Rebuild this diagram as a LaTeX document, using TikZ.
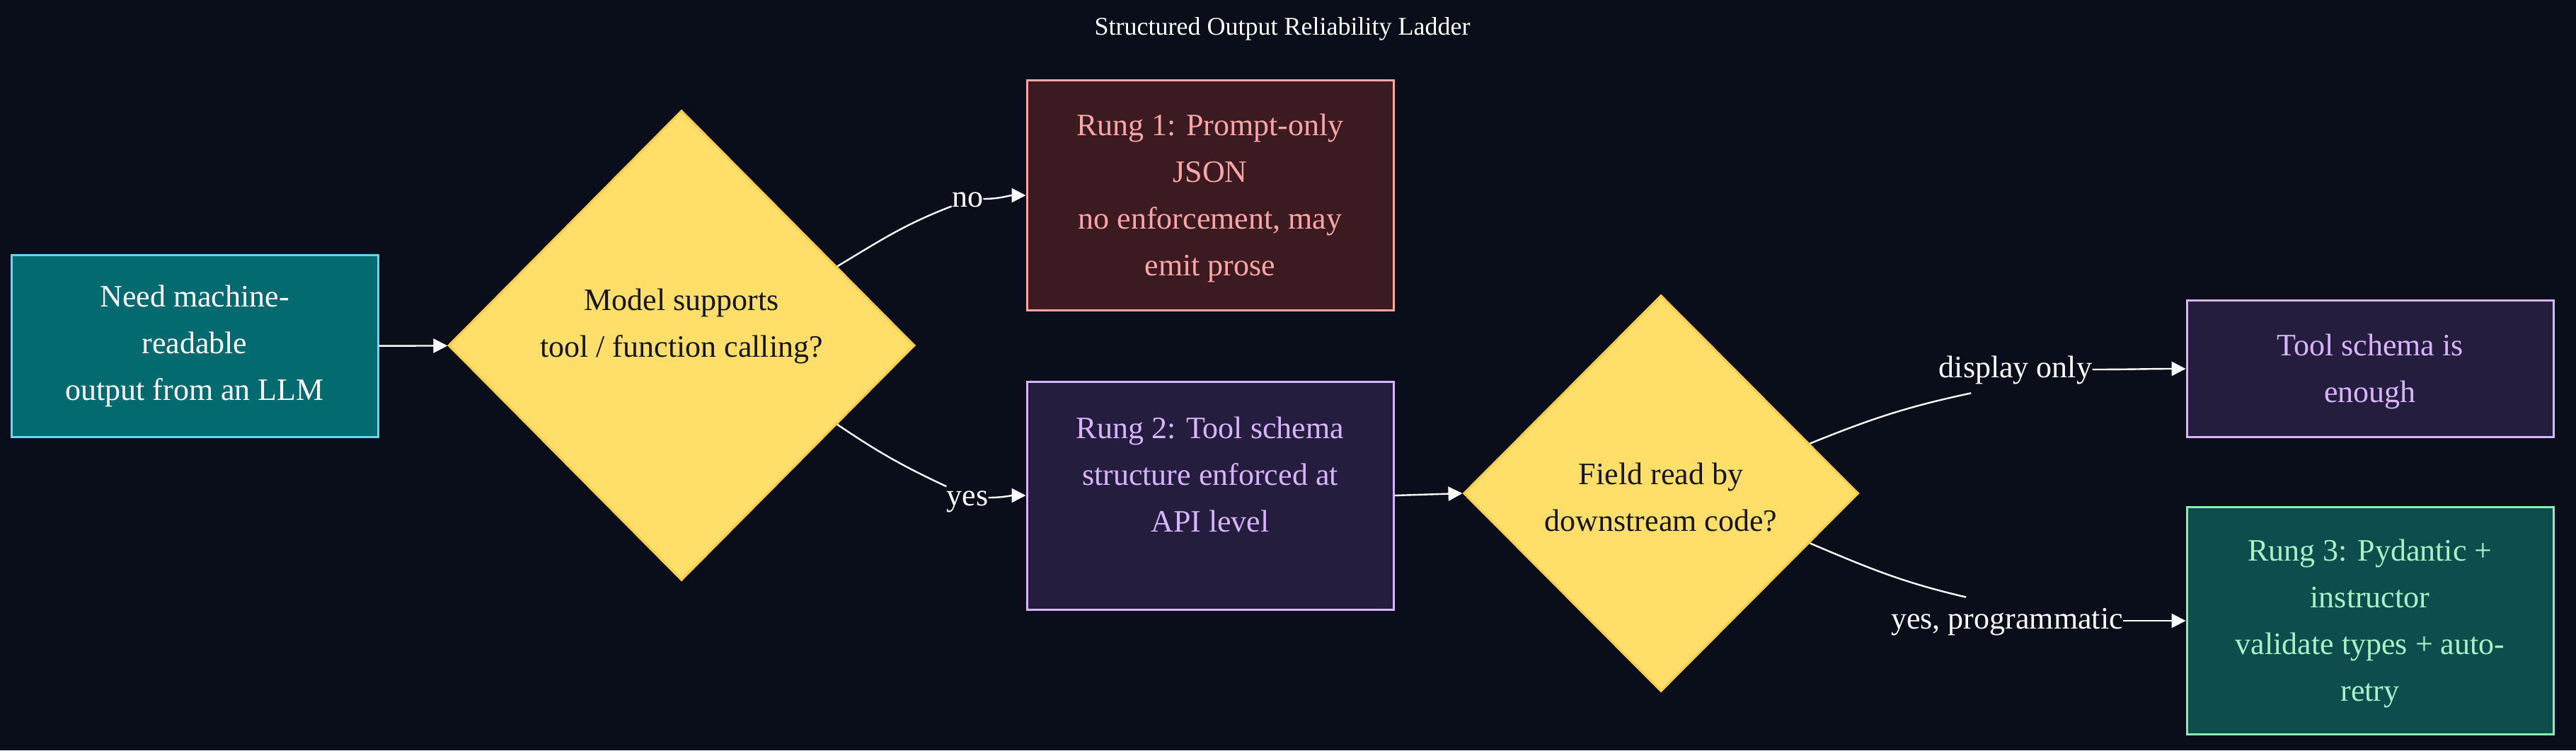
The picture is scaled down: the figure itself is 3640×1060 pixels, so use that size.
\documentclass[tikz,border=0pt]{standalone}
\usepackage{fontspec}
\setmainfont{Liberation Serif}
\usetikzlibrary{shapes.geometric,arrows.meta,calc}
\definecolor{bg}{HTML}{0A0E1A}
\definecolor{startfill}{HTML}{036A6F}
\definecolor{startborder}{HTML}{67D8EC}
\definecolor{diafill}{HTML}{FFDE6A}
\definecolor{diaborder}{HTML}{F8CC4A}
\definecolor{diatext}{HTML}{151515}
\definecolor{ronefill}{HTML}{3B1A22}
\definecolor{roneborder}{HTML}{FCA5A5}
\definecolor{rtwofill}{HTML}{251D3D}
\definecolor{rtwoborder}{HTML}{D8B4FE}
\definecolor{rthreefill}{HTML}{0E4C4E}
\definecolor{rthreeborder}{HTML}{86EFAC}
\definecolor{rthreetext}{HTML}{A7F3C4}
\begin{document}
\begin{tikzpicture}[x=0.5pt,y=-0.5pt,
  txt/.style={font=\fontsize{22}{33}\selectfont, align=center, inner sep=0pt},
  box/.style={txt, draw, line width=1.5pt, minimum width=259pt},
  dia/.style={diamond, draw=diaborder, fill=diafill, line width=1.5pt, inner sep=0pt},
  dtext/.style={txt, text=diatext},
  elabel/.style={font=\fontsize{22}{33}\selectfont, inner sep=0pt, fill=bg,
    text height=15pt, text depth=4pt, minimum height=33pt, text=white},
  edge/.style={draw=white, line width=1.2pt},
  arr/.style={edge, -{Triangle[length=10pt,width=10pt]}}
]
\fill[bg] (0,0) rectangle (3640,1060);
\useasboundingbox (0,0) rectangle (3640,1060);

\node[txt, text=white, font=\fontsize{18}{22}\selectfont] (title) at (1812,41) {Structured Output Reliability Ladder};

\node[box, fill=startfill, draw=startborder, text=white, minimum height=128.5pt] (start) at (275,489) {Need machine-\\readable\\output from an LLM};

\node[dia, minimum width=329.5pt, minimum height=332pt] (d1) at (963,488) {};
\node[dtext] (d1t) at (963,461) {Model supports\\tool / function calling?};

\node[box, fill=ronefill, draw=roneborder, text=roneborder, minimum height=162.5pt] (r1) at (1710,276) {};
\node[txt, text=roneborder] (r1t) at (1710,280) {Rung 1: Prompt-only\\JSON\\no enforcement, may\\emit prose};

\node[box, fill=rtwofill, draw=rtwoborder, minimum height=161pt] (r2) at (1710,700) {};
\node[txt, text=rtwoborder] (r2t) at (1710,670) {Rung 2: Tool schema\\structure enforced at\\API level};

\node[dia, minimum width=279pt, minimum height=280pt] (d2) at (2347,697) {};
\node[dtext] (d2t) at (2347,703) {Field read by\\downstream code?};

\node[box, fill=rtwofill, draw=rtwoborder, minimum height=96.5pt] (tool) at (3349,521) {};
\node[txt, text=rtwoborder] (toolt) at (3349,525) {Tool schema is\\enough};

\node[box, fill=rthreefill, draw=rthreeborder, minimum height=160.5pt] (r3) at (3349,877) {};
\node[txt, text=rthreetext] (r3t) at (3349,881) {Rung 3: Pydantic +\\instructor\\validate types + auto-\\retry};

\node[elabel] (lno) at (1367,281) {no};
\node[elabel] (lyes) at (1367,703) {yes};
\node[elabel] (ldisp) at (2848,522) {display only};
\node[elabel] (lprog) at (2836,877) {yes, programmatic};

\coordinate (d1a) at ($(d1.north east)!0.33!(d1.east)$);
\coordinate (d1b) at ($(d1.south east)!0.33!(d1.east)$);
\coordinate (d2a) at ($(d2.north east)!0.5!(d2.east)$);
\coordinate (d2b) at ($(d2.south east)!0.5!(d2.east)$);

\draw[arr] (start) -- (d1);
\draw[edge] (d1a) to[out=31,in=201] (lno.205);
\draw[arr] (lno) to[out=0,in=180] (r1);
\draw[edge] (d1b) to[out=-34,in=155] (lyes.152);
\draw[arr] (lyes) to[out=0,in=180] (r2);
\draw[arr] (r2.east) -- (d2.west);
\draw[edge] (d2a) to[out=22,in=192] (ldisp.208);
\draw[arr] (ldisp) to[out=0,in=180] (tool);
\draw[edge] (d2b) to[out=-23,in=167] (lprog.150);
\draw[arr] (lprog) to[out=0,in=180] (r3);
\end{tikzpicture}
\end{document}
